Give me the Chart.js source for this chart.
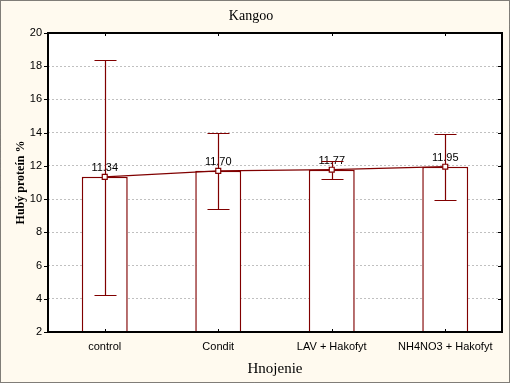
<!DOCTYPE html>
<html lang="sk">
<head>
    <meta charset="UTF-8">
    <title>Kangoo</title>
    <style>
        body { margin: 0; background: #fffaef; }
        #chart { display: block; }
    </style>
</head>
<body>
    <canvas id="chart" width="510" height="383"></canvas>

    <script src="https://cdn.jsdelivr.net/npm/chart.js"></script>
    <script>
        // Data
        const categories = ['control', 'Condit', 'LAV + Hakofyt', 'NH4NO3 + Hakofyt'];
        const means = [11.34, 11.70, 11.77, 11.95];
        const upper = [18.4, 13.95, 12.3, 13.9];
        const lower = [4.25, 9.4, 11.2, 9.95];
        const yMin = 2, yMax = 20, yStep = 2;

        const DARK = '#800000';
        const SANS = 'Liberation Sans';
        const SERIF = 'Liberation Serif';

        // background, frame, error bars, value labels
        const decor = {
            id: 'decor',
            beforeDraw(c) {
                const { ctx, chartArea: a, width, height } = c;
                ctx.save();
                ctx.fillStyle = '#fffaef';
                ctx.fillRect(0, 0, width, height);
                ctx.fillStyle = '#ffffff';
                ctx.fillRect(a.left, a.top, a.right - a.left, a.bottom - a.top);
                ctx.setLineDash([1, 1]);
                ctx.strokeStyle = '#000';
                ctx.lineWidth = 1;
                ctx.strokeRect(0.5, 0.5, width - 1, height - 1);
                ctx.restore();
            },
            afterDatasetDraw(c, args) {
                if (args.index !== 1) return;
                const { ctx } = c;
                const x = c.scales.x, y = c.scales.y;
                ctx.save();
                // labels
                ctx.fillStyle = '#000';
                ctx.font = '11px ' + SANS;
                ctx.textAlign = 'center';
                ctx.textBaseline = 'alphabetic';
                means.forEach((m, i) => {
                    ctx.fillText(m.toFixed(2), x.getPixelForValue(i), y.getPixelForValue(m) - 6);
                });
                // whiskers
                ctx.strokeStyle = DARK;
                ctx.lineWidth = 1.2;
                means.forEach((m, i) => {
                    const px = Math.round(x.getPixelForValue(i)) + 0.5;
                    const hi = Math.round(y.getPixelForValue(upper[i])) + 0.5;
                    const lo = Math.round(y.getPixelForValue(lower[i])) + 0.5;
                    ctx.beginPath();
                    ctx.moveTo(px, hi); ctx.lineTo(px, lo);
                    ctx.moveTo(px - 11, hi); ctx.lineTo(px + 11, hi);
                    ctx.moveTo(px - 11, lo); ctx.lineTo(px + 11, lo);
                    ctx.stroke();
                });
                ctx.restore();
            },
            afterDraw(c) {
                const { ctx, chartArea: a } = c;
                const x = c.scales.x, y = c.scales.y;
                ctx.save();
                ctx.strokeStyle = '#000';
                ctx.lineWidth = 1;
                ctx.beginPath();
                // y ticks: outward left, inward right
                y.ticks.forEach(t => {
                    const py = Math.round(y.getPixelForValue(t.value)) + 0.5;
                    ctx.moveTo(a.left - 4, py); ctx.lineTo(a.left, py);
                    ctx.moveTo(a.right - 4, py); ctx.lineTo(a.right, py);
                });
                // x ticks: inward top and bottom
                categories.forEach((_, i) => {
                    const px = Math.round(x.getPixelForValue(i)) + 0.5;
                    ctx.moveTo(px, a.top); ctx.lineTo(px, a.top + 3);
                    ctx.moveTo(px, a.bottom); ctx.lineTo(px, a.bottom - 3);
                });
                ctx.stroke();
                ctx.lineWidth = 2;
                ctx.strokeRect(Math.round(a.left), Math.round(a.top), Math.round(a.right - a.left), Math.round(a.bottom - a.top));
                ctx.restore();
            }
        };

        new Chart(document.getElementById('chart'), {
            type: 'bar',
            data: {
                labels: categories,
                datasets: [
                    {
                        type: 'line',
                        data: means,
                        borderColor: DARK,
                        borderWidth: 1.2,
                        pointStyle: 'rect',
                        pointRadius: 3.5,
                        pointBackgroundColor: '#ffffff',
                        pointBorderColor: DARK,
                        pointBorderWidth: 1.2,
                        order: 1
                    },
                    {
                        type: 'bar',
                        data: means,
                        backgroundColor: '#ffffff',
                        borderColor: DARK,
                        borderWidth: 1.5,
                        barPercentage: 0.405,
                        categoryPercentage: 1,
                        order: 2
                    }
                ]
            },
            options: {
                responsive: false,
                devicePixelRatio: 1,
                animation: false,
                layout: { padding: { left: 0, right: 8, top: 0, bottom: 0 } },
                plugins: {
                    legend: { display: false },
                    tooltip: { enabled: false },
                    title: {
                        display: true,
                        text: 'Kangoo',
                        color: '#000',
                        font: { family: SERIF, size: 14, weight: 'normal' },
                        padding: { top: 8, bottom: 8.2 }
                    }
                },
                scales: {
                    x: {
                        grid: { display: false },
                        border: { display: false },
                        afterFit(s) { s.height = 51; },
                        ticks: { color: '#000', font: { family: SANS, size: 11 }, padding: 0, maxRotation: 0 },
                        title: {
                            display: true,
                            text: 'Hnojenie',
                            color: '#000',
                            font: { family: SERIF, size: 15 },
                            padding: { top: 0, bottom: 5 }
                        }
                    },
                    y: {
                        min: yMin,
                        max: yMax,
                        afterFit(s) { s.width = 48; },
                        grid: { color: '#c0c0c0', drawTicks: false, lineWidth: 1 },
                        border: { display: false, dash: [2, 2] },
                        ticks: { stepSize: yStep, color: '#000', font: { family: SANS, size: 11 }, padding: 6 },
                        title: {
                            display: true,
                            text: 'Hubý proteín %',
                            color: '#000',
                            font: { family: SERIF, size: 12, weight: 'bold' },
                            padding: { top: 14, bottom: 0 }
                        }
                    }
                }
            },
            plugins: [decor]
        });
    </script>
</body>
</html>
